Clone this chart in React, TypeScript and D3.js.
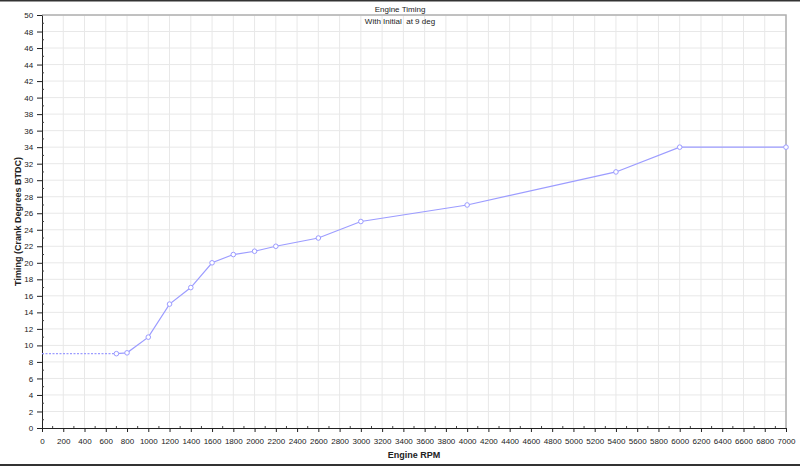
import React, { useRef, useEffect } from 'react';
import * as d3 from 'd3';

// initial timing, drawn dashed up to the first real point
const initialRpm = [0, 700];
const initialDeg = [9, 9];

const rpm = [700, 800, 1000, 1200, 1400, 1600, 1800, 2000, 2200, 2600, 3000, 4000, 5400, 6000, 7000];
const timing = [9, 9.1, 11, 15, 17, 20, 21, 21.4, 22, 23, 25, 27, 31, 34, 34];

const xTicks = d3.range(0, 7001, 200);
const yTicks = d3.range(0, 51, 2);

const title = 'Engine Timing';
const subtitle = 'With Initial  at 9 deg';
const xTitle = 'Engine RPM';
const yTitle = 'Timing (Crank Degrees BTDC)';

const App: React.FC = () => {
    const ref = useRef<SVGSVGElement | null>(null);

    useEffect(() => {
        document.body.style.margin = '0';
        const width = 800;
        const height = 466;
        const margin = { top: 15, right: 14, bottom: 38, left: 42 };
        const font = 'Liberation Sans, Arial, sans-serif';

        const svg = d3.select(ref.current);
        svg.selectAll('*').remove();

        svg.append('rect').attr('width', width).attr('height', height).attr('fill', '#fff');
        svg.append('rect').attr('x', 0).attr('y', 0).attr('width', width).attr('height', 1.5).attr('fill', '#333');
        svg.append('rect').attr('x', 0).attr('y', height - 2).attr('width', width).attr('height', 2).attr('fill', '#333');

        const x = d3.scaleLinear().domain([0, 7000]).range([margin.left, width - margin.right]);
        const y = d3.scaleLinear().domain([0, 50]).range([height - margin.bottom, margin.top]);

        // grid
        const grid = svg.append('g').attr('stroke', '#e8e8e8').attr('stroke-width', 1);
        xTicks.slice(1).forEach(t => {
            grid.append('line').attr('x1', x(t)).attr('x2', x(t)).attr('y1', y(0)).attr('y2', y(50));
        });
        yTicks.slice(1).forEach(t => {
            grid.append('line').attr('x1', x(0)).attr('x2', x(7000)).attr('y1', y(t)).attr('y2', y(t));
        });

        // plot border (top and right)
        svg.append('path')
            .attr('d', `M${x(0)},${y(50)}H${x(7000)}V${y(0)}`)
            .attr('fill', 'none')
            .attr('stroke', '#b0b0b0')
            .attr('stroke-width', 1.5);

        // x axis
        const xAxis = svg.append('g')
            .attr('transform', `translate(0,${y(0)})`)
            .call(d3.axisBottom(x).tickValues(xTicks).tickSize(4).tickSizeOuter(0).tickFormat(d3.format('d')));
        xAxis.select('.domain').attr('stroke', '#222');
        xAxis.selectAll('line').attr('stroke', '#222');
        xAxis.selectAll('text').attr('font-family', font).attr('font-size', 8).attr('fill', '#222').attr('dy', '1.1em');
        // minor x ticks
        d3.range(100, 7000, 200).forEach(t => {
            svg.append('line').attr('x1', x(t)).attr('x2', x(t)).attr('y1', y(0)).attr('y2', y(0) - 2).attr('stroke', '#444');
        });

        // y axis
        const yAxis = svg.append('g')
            .attr('transform', `translate(${x(0)},0)`)
            .call(d3.axisLeft(y).tickValues(yTicks).tickSize(5).tickSizeOuter(0).tickFormat(d3.format('d')));
        yAxis.select('.domain').attr('stroke', '#222');
        yAxis.selectAll('line').attr('stroke', '#222');
        yAxis.selectAll('text').attr('font-family', font).attr('font-size', 8).attr('fill', '#222').attr('dx', '-0.1em');
        d3.range(1, 50, 2).forEach(t => {
            svg.append('line').attr('x1', x(0)).attr('x2', x(0) + 2).attr('y1', y(t)).attr('y2', y(t)).attr('stroke', '#444');
        });

        const lineColor = '#9c9cff';
        const line = d3.line<number>().x((d, i) => x(rpm[i])).y(d => y(d));
        const initLine = d3.line<number>().x((d, i) => x(initialRpm[i])).y(d => y(d));

        svg.append('path')
            .attr('d', initLine(initialDeg) || '')
            .attr('fill', 'none')
            .attr('stroke', lineColor)
            .attr('stroke-width', 1.2)
            .attr('stroke-dasharray', '2,1.5');

        svg.append('path')
            .attr('d', line(timing) || '')
            .attr('fill', 'none')
            .attr('stroke', lineColor)
            .attr('stroke-width', 1.2);

        svg.selectAll('circle.pt')
            .data(timing)
            .enter()
            .append('circle')
            .attr('class', 'pt')
            .attr('cx', (d, i) => x(rpm[i]))
            .attr('cy', d => y(d))
            .attr('r', 2.3)
            .attr('fill', '#fff')
            .attr('stroke', lineColor)
            .attr('stroke-width', 1);

        // titles
        svg.append('text').attr('x', 400).attr('y', 12).attr('text-anchor', 'middle')
            .attr('font-family', font).attr('font-size', 8).attr('fill', '#222').text(title);
        svg.append('text').attr('x', 400).attr('y', 24).attr('text-anchor', 'middle')
            .style('white-space', 'pre')
            .attr('font-family', font).attr('font-size', 8).attr('fill', '#222').text(subtitle);
        svg.append('text').attr('x', x(3500)).attr('y', 458).attr('text-anchor', 'middle')
            .attr('font-family', font).attr('font-size', 9).attr('font-weight', 'bold').attr('fill', '#222').text(xTitle);
        svg.append('text')
            .attr('transform', `translate(21,${y(25)}) rotate(-90)`)
            .attr('text-anchor', 'middle')
            .attr('font-family', font).attr('font-size', 9).attr('font-weight', 'bold').attr('fill', '#222').text(yTitle);
    }, []);

    return (
        <svg ref={ref} width={800} height={466} style={{ display: 'block' }}></svg>
    );
};

export default App;
